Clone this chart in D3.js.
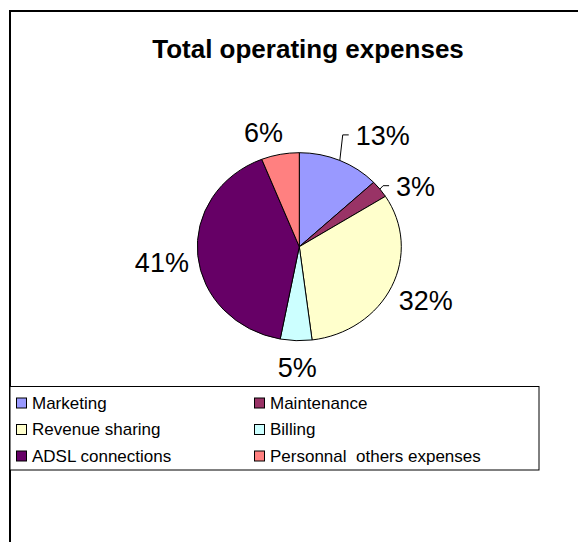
<!DOCTYPE html>
<html>
<head>
<meta charset="utf-8">
<script src="https://cdn.jsdelivr.net/npm/d3@7"></script>
<style>
  html, body { margin: 0; padding: 0; background: #fff; }
  svg { display: block; font-family: "Liberation Sans", Arial, sans-serif; }
</style>
</head>
<body>
<svg id="chart" width="578" height="542"></svg>
<script>
// Expense categories and their share of total operating expenses (%)
const categories = ["Marketing", "Maintenance", "Revenue sharing", "Billing", "ADSL connections", "Personnal  others expenses"];
const shares = [13, 3, 32, 5, 41, 6];
const colors = ["#9999FF", "#993366", "#FFFFCC", "#CCFFFF", "#660066", "#FF8080"];
const title = "Total operating expenses";

// Layout
const W = 578, H = 542;
const cx = 299.3, cy = 246.7;
const rx = 102, ry = 94;          // pie is drawn slightly wider than tall
const labelPad = 30;
// fine adjustments of each percentage label (px)
const labelNudge = [[31, 2], [12, 15], [7, 0.5], [2, -4], [-6, 4], [-11, 7]];
const leaderSlices = [0, 1];      // labels pulled away from their slice get a leader line

const svg = d3.select("#chart");

// outer chart frame (continues past the window edges)
svg.append("rect")
  .attr("x", 10).attr("y", 11)
  .attr("width", 700).attr("height", 700)
  .attr("fill", "#fff")
  .attr("stroke", "#000").attr("stroke-width", 2);

// title
svg.append("text")
  .attr("x", 308).attr("y", 58)
  .attr("text-anchor", "middle")
  .attr("font-size", 26).attr("font-weight", "bold")
  .attr("fill", "#000")
  .text(title);

// pie
const pie = d3.pie().sort(null).value(d => d)(shares);
const arc = d3.arc().innerRadius(0).outerRadius(rx);

const g = svg.append("g")
  .attr("transform", `translate(${cx},${cy}) scale(1,${ry / rx})`);

g.selectAll("path")
  .data(pie)
  .join("path")
  .attr("d", arc)
  .attr("fill", (d, i) => colors[i])
  .attr("stroke", "#000")
  .attr("stroke-width", 1)
  .attr("vector-effect", "non-scaling-stroke");

// percentage labels
const fmt = d3.format(".0f");
const total = d3.sum(shares);
const midAngle = d => (d.startAngle + d.endAngle) / 2;

const labels = pie.map((d, i) => {
  const a = midAngle(d);
  const x = cx + Math.sin(a) * (rx + labelPad) + labelNudge[i][0];
  const y = cy - Math.cos(a) * (ry + labelPad) + labelNudge[i][1];
  return { d, i, a, x, y, text: fmt(shares[i] / total * 100) + "%" };
});

svg.append("g").selectAll("text")
  .data(labels)
  .join("text")
  .attr("x", l => l.x)
  .attr("y", l => l.y + 10)
  .attr("text-anchor", "middle")
  .attr("font-size", 27)
  .attr("fill", "#000")
  .text(l => l.text);

// leader lines from the slice edge to the label
const fontSize = 27;
svg.append("g").selectAll("path")
  .data(labels.filter(l => leaderSlices.includes(l.i)))
  .join("path")
  .attr("fill", "none")
  .attr("stroke", "#000")
  .attr("stroke-width", 1)
  .attr("d", l => {
    const ex = cx + Math.sin(l.a) * rx;
    const ey = cy - Math.cos(l.a) * ry;
    const textW = l.text.length === 3 ? 2.0 * fontSize : 1.445 * fontSize;
    const left = l.x - textW / 2;
    return d3.line()([[ex, ey], [left - 13, l.y], [left - 7, l.y]]);
  });

// legend
const legend = svg.append("g");
legend.append("rect")
  .attr("x", 10).attr("y", 386.5)
  .attr("width", 529).attr("height", 83.5)
  .attr("fill", "#fff")
  .attr("stroke", "#000").attr("stroke-width", 1);

const colX = [16, 254];
const rowY = [408.5, 435, 461.5];
const item = legend.selectAll("g.item")
  .data(categories)
  .join("g")
  .attr("class", "item")
  .attr("transform", (d, i) => `translate(${colX[i % 2]},${rowY[Math.floor(i / 2)]})`);

item.append("rect")
  .attr("x", 0.5).attr("y", -10.5)
  .attr("width", 10).attr("height", 10)
  .attr("fill", (d, i) => colors[i])
  .attr("stroke", "#000").attr("stroke-width", 1);

item.append("text")
  .attr("x", 16).attr("y", 0)
  .attr("font-size", 17)
  .attr("fill", "#000")
  .style("white-space", "pre")
  .attr("xml:space", "preserve")
  .text(d => d);
</script>
</body>
</html>
